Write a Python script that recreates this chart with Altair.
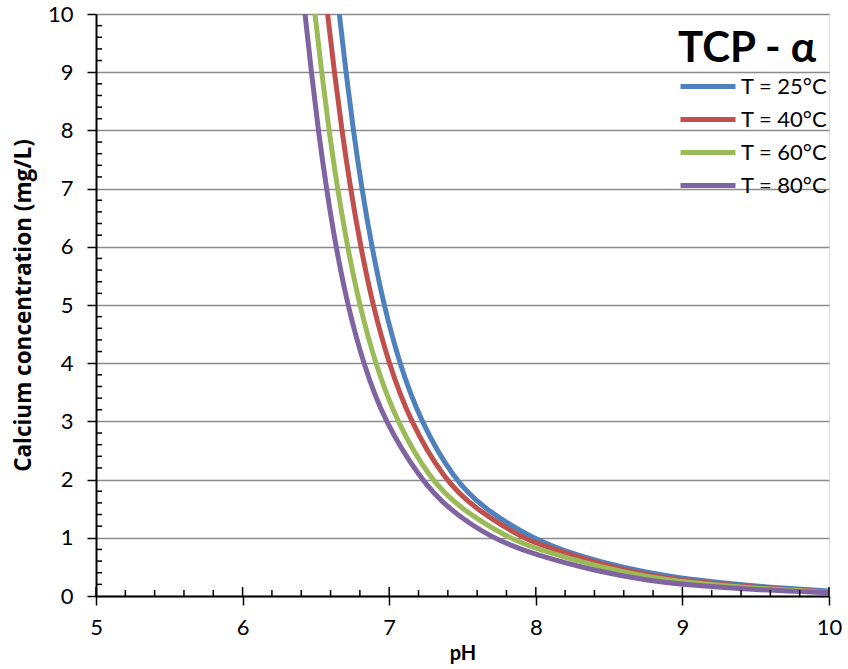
import altair as alt
import pandas as pd

# ---- data ----
series_names = ["T = 25°C", "T = 40°C", "T = 60°C", "T = 80°C"]
colors = ["#4F81BD", "#C0504D", "#9BBB59", "#8064A2"]

ph_25 = [6.66, 6.705, 6.755, 6.813, 6.881, 6.963, 7.069, 7.213, 7.442, 7.645, 7.969, 8.2, 8.44, 8.78, 9.0, 9.5, 10.0]
c_25 = [10, 9, 8, 7, 6, 5, 4, 3, 2, 1.5, 1, 0.77, 0.585, 0.39, 0.30, 0.16, 0.085]

ph_40 = [6.58, 6.626, 6.677, 6.736, 6.805, 6.888, 6.996, 7.142, 7.375, 7.583, 7.91, 8.0, 8.44, 8.78, 9.0, 9.5, 10.0]
c_40 = [10, 9, 8, 7, 6, 5, 4, 3, 2, 1.5, 1, 0.905, 0.54, 0.35, 0.27, 0.14, 0.072]

ph_60 = [6.494, 6.539, 6.589, 6.647, 6.715, 6.797, 6.904, 7.049, 7.279, 7.485, 7.81, 8.0, 8.44, 8.78, 9.0, 9.5, 10.0]
c_60 = [10, 9, 8, 7, 6, 5, 4, 3, 2, 1.5, 1, 0.81, 0.49, 0.32, 0.245, 0.125, 0.064]

ph_80 = [6.426, 6.469, 6.516, 6.572, 6.636, 6.716, 6.822, 6.967, 7.215, 7.40, 7.69, 8.0, 8.44, 8.78, 9.0, 9.5, 10.0]
c_80 = [10, 9, 8, 7, 6, 5, 4, 3, 2, 1.5, 1, 0.70, 0.41, 0.26, 0.20, 0.105, 0.055]

x_major = [5, 6, 7, 8, 9, 10]
y_major = [0, 1, 2, 3, 4, 5, 6, 7, 8, 9, 10]
x_minor = [round(5 + 0.2 * i, 1) for i in range(26) if i % 5 != 0]
y_minor = [round(0.2 * i, 1) for i in range(51) if i % 5 != 0]

FONT = "Lato"
W, H = 733, 582

rows = []
for name, xs, ys in zip(series_names, [ph_25, ph_40, ph_60, ph_80], [c_25, c_40, c_60, c_80]):
    for x, y in zip(xs, ys):
        rows.append({"series": name, "pH": x, "C": y})
df = pd.DataFrame(rows)

xscale = alt.Scale(domain=[5, 10], nice=False, zero=False)
yscale = alt.Scale(domain=[0, 10], nice=False)
color_scale = alt.Scale(domain=series_names, range=colors)

legend = alt.Legend(
    title="TCP - α", orient="none", legendX=582, legendY=15,
    titleFontSize=42, titleFont=FONT, titleFontWeight="bold", titleColor="black",
    titleAnchor="start", titlePadding=3,
    labelFontSize=22, labelFont=FONT, labelColor="black",
    symbolType="M-1,0L4.5,0", symbolSize=400, symbolStrokeWidth=5,
    labelOffset=38, rowPadding=9, padding=0,
)

x_axis = alt.Axis(values=x_major, format="d", grid=False, title="pH", labelFlush=False,
                  tickSize=9, tickColor="black", tickWidth=1.5,
                  domainColor="black", domainWidth=2,
                  labelFont=FONT, labelFontSize=22, labelColor="black", labelPadding=12,
                  titleFont=FONT, titleFontSize=20, titleFontWeight="bold", titleColor="black",
                  titlePadding=5)
y_axis = alt.Axis(values=y_major, format="d", grid=True, gridColor="#8C8C8C", gridWidth=1.5,
                  title="Calcium concentration (mg/L)", labelFlush=False,
                  tickSize=9, tickColor="black", tickWidth=1.5,
                  domainColor="black", domainWidth=2,
                  labelFont=FONT, labelFontSize=22, labelColor="black", labelPadding=14,
                  titleFont="Open Sans", titleFontSize=22.5, titleFontWeight="bold", titleColor="black",
                  titlePadding=12)

X = alt.X("v:Q", scale=xscale, axis=x_axis)
Y = alt.Y("v:Q", scale=yscale, axis=y_axis)

base = alt.Chart(df)
layers = []
for name in series_names:
    layers.append(
        base.transform_filter(alt.datum.series == name)
        .mark_line(strokeWidth=5, interpolate="basis", clip=True, strokeCap="round")
        .encode(
            x=alt.X("pH:Q", scale=xscale, axis=x_axis),
            y=alt.Y("C:Q", scale=yscale, axis=y_axis),
            color=alt.Color("series:N", scale=color_scale, legend=legend),
        )
    )

xt_minor = alt.Chart(pd.DataFrame({"v": x_minor})).mark_rule(color="black", strokeWidth=1.5).encode(
    x=X, y=alt.value(H), y2=alt.value(H - 6))
xt_major = alt.Chart(pd.DataFrame({"v": x_major})).mark_rule(color="black", strokeWidth=1.5).encode(
    x=X, y=alt.value(H), y2=alt.value(H - 9))
yt_minor = alt.Chart(pd.DataFrame({"v": y_minor})).mark_rule(color="black", strokeWidth=1.5).encode(
    y=Y, x=alt.value(0), x2=alt.value(6))

chart = alt.layer(*layers, xt_minor, xt_major, yt_minor).properties(
    width=W, height=H,
    autosize=alt.AutoSizeParams(type="none"),
    padding={"left": 96, "top": 14, "right": 19, "bottom": 73},
).configure_view(stroke="black", strokeWidth=1.5).configure(background="white")

chart.save("out.html", embed_options={"renderer": "svg", "actions": False})
